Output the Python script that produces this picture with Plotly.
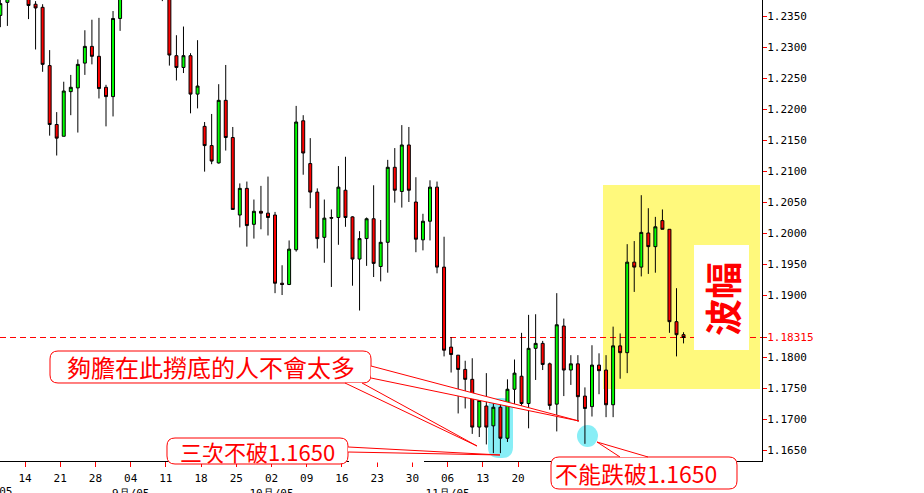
import plotly.graph_objects as go
import pandas as pd

# ---------------- data ----------------
dates = pd.bdate_range("2005-08-09", "2005-12-22")

opens = [1.2351, 1.2372, 1.2410, 1.2432, 1.2418, 1.2369, 1.2364, 1.2270, 1.2175, 1.2156,
         1.2228, 1.2234, 1.2274, 1.2301, 1.2285, 1.2235, 1.2220, 1.2346, 1.2395, 1.2405,
         1.2440, 1.2462, 1.2430, 1.2455, 1.2470, 1.2286, 1.2267, 1.2286, 1.2224, 1.2172,
         1.2141, 1.2113, 1.2214, 1.2154, 1.2029, 1.2072, 1.2014, 1.2035, 1.2032, 1.2029,
         1.1919, 1.1917, 1.1973, 1.2181, 1.2112, 1.2066, 1.1993, 1.2025, 1.2025, 1.2069,
         1.2026, 1.1958, 1.1991, 1.2023, 1.1946, 1.1985, 1.2106, 1.2067, 1.2142, 1.2050,
         1.1989, 1.2019, 1.2074, 1.1945, 1.1816, 1.1803, 1.1780, 1.1764, 1.1687, 1.1721,
         1.1689, 1.1719, 1.1669, 1.1748, 1.1769, 1.1725, 1.1814, 1.1822, 1.1789, 1.1724,
         1.1850, 1.1779, 1.1789, 1.1737, 1.1720, 1.1787, 1.1779, 1.1723, 1.1818, 1.1807,
         1.1953, 1.1945, 1.2000, 1.1978, 1.2020, 1.2006, 1.1857, 1.1836]
highs = [1.2390, 1.2430, 1.2460, 1.2455, 1.2440, 1.2374, 1.2369, 1.2295, 1.2195, 1.2244,
         1.2255, 1.2280, 1.2327, 1.2344, 1.2347, 1.2239, 1.2358, 1.2405, 1.2425, 1.2450,
         1.2485, 1.2478, 1.2468, 1.2490, 1.2492, 1.2319, 1.2333, 1.2290, 1.2311, 1.2179,
         1.2192, 1.2240, 1.2271, 1.2171, 1.2080, 1.2083, 1.2054, 1.2076, 1.2091, 1.2034,
         1.1948, 1.1988, 1.2205, 1.2190, 1.2153, 1.2072, 1.2054, 1.2038, 1.2108, 1.2123,
         1.2027, 1.2003, 1.2025, 1.2077, 1.2021, 1.2118, 1.2137, 1.2174, 1.2171, 1.2090,
         1.2031, 1.2085, 1.2083, 1.1994, 1.1832, 1.1803, 1.1794, 1.1798, 1.1733, 1.1774,
         1.1728, 1.1730, 1.1764, 1.1796, 1.1839, 1.1868, 1.1869, 1.1826, 1.1791, 1.1903,
         1.1862, 1.1803, 1.1803, 1.1751, 1.1819, 1.1806, 1.1803, 1.1849, 1.1838, 1.1982,
         1.1987, 1.2061, 1.2040, 1.2026, 1.2038, 1.2006, 1.1911, 1.1840]
lows = [1.2332, 1.2334, 1.2385, 1.2395, 1.2345, 1.2296, 1.2260, 1.2157, 1.2125, 1.2156,
        1.2190, 1.2162, 1.2255, 1.2272, 1.2217, 1.2172, 1.2188, 1.2326, 1.2380, 1.2385,
        1.2410, 1.2412, 1.2398, 1.2374, 1.2270, 1.2246, 1.2258, 1.2193, 1.2201, 1.2099,
        1.2111, 1.2112, 1.2133, 1.2038, 1.2009, 1.1978, 1.1991, 1.2006, 1.1996, 1.1903,
        1.1900, 1.1916, 1.1970, 1.2094, 1.2040, 1.1975, 1.1952, 1.1913, 1.1981, 1.2010,
        1.1915, 1.1875, 1.1947, 1.1929, 1.1922, 1.1936, 1.2049, 1.2041, 1.2050, 1.1969,
        1.1972, 1.1988, 1.1935, 1.1801, 1.1775, 1.1709, 1.1717, 1.1676, 1.1671, 1.1659,
        1.1645, 1.1645, 1.1663, 1.1720, 1.1717, 1.1685, 1.1763, 1.1779, 1.1715, 1.1680,
        1.1737, 1.1755, 1.1696, 1.1660, 1.1704, 1.1740, 1.1703, 1.1703, 1.1765, 1.1774,
        1.1905, 1.1930, 1.1934, 1.1936, 1.2006, 1.1839, 1.1801, 1.1822]
closes = [1.2370, 1.2410, 1.2432, 1.2420, 1.2367, 1.2363, 1.2272, 1.2175, 1.2153, 1.2229,
          1.2235, 1.2272, 1.2301, 1.2285, 1.2233, 1.2220, 1.2346, 1.2395, 1.2405, 1.2440,
          1.2462, 1.2430, 1.2455, 1.2470, 1.2287, 1.2267, 1.2286, 1.2224, 1.2237, 1.2141,
          1.2116, 1.2214, 1.2154, 1.2038, 1.2072, 1.2012, 1.2035, 1.2032, 1.2025, 1.1919,
          1.1917, 1.1974, 1.2179, 1.2129, 1.2066, 1.1991, 1.2024, 1.2024, 1.2074, 1.2025,
          1.1958, 1.1991, 1.2023, 1.1951, 1.1985, 1.2106, 1.2069, 1.2142, 1.2069, 1.1990,
          1.2019, 1.2074, 1.1945, 1.1811, 1.1804, 1.1780, 1.1764, 1.1687, 1.1730, 1.1687,
          1.1719, 1.1669, 1.1748, 1.1774, 1.1725, 1.1814, 1.1822, 1.1788, 1.1722, 1.1852,
          1.1779, 1.1789, 1.1736, 1.1717, 1.1787, 1.1778, 1.1723, 1.1818, 1.1807, 1.1953,
          1.1945, 1.2001, 1.1978, 1.2010, 1.2006, 1.1857, 1.1836, 1.18315]

last_price = 1.18315

# weekly tick dates (Sundays) and their labels
tick_dates = ["2005-08-14", "2005-08-21", "2005-08-28", "2005-09-04", "2005-09-11",
              "2005-09-18", "2005-09-25", "2005-10-02", "2005-10-09", "2005-10-16",
              "2005-10-23", "2005-10-30", "2005-11-06", "2005-11-13", "2005-11-20"]
tick_days = ["14", "21", "28", "04", "11", "18", "25", "02", "09", "16", "23", "30",
             "06", "13", "20"]
tick_months = ["", "", "", "9月/05", "", "", "", "10月/05", "", "", "", "", "11月/05", "", ""]
first_month_label = "8月/05"

price_ticks = [1.1650, 1.1700, 1.1750, 1.1800, 1.1900, 1.1950, 1.2000, 1.2050, 1.2100,
               1.2150, 1.2200, 1.2250, 1.2300, 1.2350]

txt_callout1 = "夠膽在此撈底的人不會太多"
txt_callout2 = "三次不破1.1650"
txt_callout3 = "不能跌破1.1650"
txt_range = "波幅"

# ---------------- figure ----------------
x_idx = list(range(len(dates)))
date_series = pd.Series(dates)

def tick_pos(d):
    d = pd.Timestamp(d)
    i = int((date_series > d).idxmax())
    return i - 0.5

tickvals_x = [tick_pos(d) for d in tick_dates]
ticktext_x = [d if m == "" else f"{d}<br>{m}" for d, m in zip(tick_days, tick_months)]

tickvals_y = price_ticks + [last_price]
ticktext_y = [f"{v:.4f}" for v in price_ticks] + [f"<span style='color:#FF0000'>{last_price:.5f}</span>"]

W, H = 924, 493
ML, MR, MT, MB = 0, 162, 0, 32
PW, PH = W - ML - MR, H - MT - MB

def PX(x):
    return (x - ML) / PW

def PY(y):
    return (MT + PH - y) / PH

def rrect(x0, y0, x1, y1, r):
    p = lambda x, y: f"{PX(x):.5f},{PY(y):.5f}"
    return (f"M{p(x0 + r, y0)} L{p(x1 - r, y0)} Q{p(x1, y0)} {p(x1, y0 + r)} "
            f"L{p(x1, y1 - r)} Q{p(x1, y1)} {p(x1 - r, y1)} L{p(x0 + r, y1)} "
            f"Q{p(x0, y1)} {p(x0, y1 - r)} L{p(x0, y0 + r)} Q{p(x0, y0)} {p(x0 + r, y0)} Z")

def wedge(a, tip, b):
    p = lambda q: f"{PX(q[0]):.5f},{PY(q[1]):.5f}"
    return f"M{p(a)} L{p(tip)} L{p(b)}"

fig = go.Figure(go.Candlestick(
    x=x_idx, open=opens, high=highs, low=lows, close=closes,
    increasing=dict(fillcolor="#00FF00", line=dict(color="black", width=1)),
    decreasing=dict(fillcolor="#FF0000", line=dict(color="black", width=1)),
    whiskerwidth=0,
    hovertext=[d.strftime("%Y-%m-%d") for d in dates],
    showlegend=False,
))

RED = "#FF0000"
CYAN = "#88EEF6"
YELLOW = "#FFF97C"

shapes = []
# yellow range box
shapes.append(dict(type="rect", xref="paper", yref="paper", x0=PX(603), x1=PX(760),
                   y0=PY(389), y1=PY(185), fillcolor=YELLOW, line=dict(width=0), layer="below"))
# cyan highlights
shapes.append(dict(type="path", xref="paper", yref="paper", path=rrect(488, 398, 513, 458, 11),
                   fillcolor=CYAN, line=dict(width=0), layer="below"))
shapes.append(dict(type="circle", xref="paper", yref="paper", x0=PX(577), x1=PX(598),
                   y0=PY(447), y1=PY(425), fillcolor=CYAN, line=dict(width=0), layer="below"))
# last price dashed line
shapes.append(dict(type="line", xref="paper", yref="y", x0=0, x1=1, y0=last_price, y1=last_price,
                   line=dict(color=RED, width=1, dash="6px,4px"), layer="below"))
# white box behind the vertical label
shapes.append(dict(type="rect", xref="paper", yref="paper", x0=PX(694), x1=PX(749),
                   y0=PY(350), y1=PY(245), fillcolor="white", line=dict(width=0), layer="above"))
# gap in the axis line right of the second callout
shapes.append(dict(type="line", xref="paper", yref="paper", x0=PX(349), x1=PX(424),
                   y0=PY(461.5), y1=PY(461.5), line=dict(color="white", width=2), layer="above"))
# callout boxes
for (x0, y0, x1, y1) in [(50, 351, 371, 383), (167, 438, 348, 464), (551, 457, 737, 489)]:
    shapes.append(dict(type="path", xref="paper", yref="paper", path=rrect(x0, y0, x1, y1, 8),
                       fillcolor="white", line=dict(color=RED, width=1), layer="above"))
# callout pointers
for a, tip, b in [((371, 366), (579, 421), (371, 378)),
                  ((345, 383), (477, 446), (362, 383)),
                  ((348, 447), (500, 455), (348, 452)),
                  ((620, 457), (597, 442), (648, 457))]:
    shapes.append(dict(type="path", xref="paper", yref="paper", path=wedge(a, tip, b),
                       fillcolor="white", line=dict(color=RED, width=1), layer="above"))

cjk = "Noto Sans CJK TC"
annotations = [
    dict(xref="paper", yref="paper", x=PX(211), y=PY(366), text=txt_callout1, showarrow=False,
         font=dict(family=cjk, size=24, color=RED), xanchor="center", yanchor="middle"),
    dict(xref="paper", yref="paper", x=PX(257), y=PY(451), text=txt_callout2, showarrow=False,
         font=dict(family=cjk, size=22, color=RED), xanchor="center", yanchor="middle"),
    dict(xref="paper", yref="paper", x=PX(636), y=PY(473), text=txt_callout3, showarrow=False,
         font=dict(family=cjk, size=23, color=RED), xanchor="center", yanchor="middle"),
    dict(xref="paper", yref="paper", x=PX(722), y=PY(299), text=txt_range, showarrow=False,
         textangle=-90, font=dict(family=cjk, size=37, color=RED, weight="bold"),
         xanchor="center", yanchor="middle"),
    dict(xref="paper", yref="paper", x=PX(15), y=PY(491), text=first_month_label, showarrow=False,
         font=dict(family="DejaVu Sans Mono", size=11, color="black"), xanchor="right", yanchor="middle"),
]

fig.update_layout(
    width=W, height=H,
    margin=dict(l=ML, r=MR, t=MT, b=MB, pad=0, autoexpand=False),
    paper_bgcolor="white", plot_bgcolor="white",
    shapes=shapes, annotations=annotations,
    boxgap=0.4,
    xaxis=dict(range=[-0.05, 108.14], rangeslider=dict(visible=False), showgrid=False,
               zeroline=False, showline=True, linecolor="black", linewidth=1, automargin=False,
               ticks="outside", ticklen=5, tickcolor=RED, tickwidth=1,
               tickvals=tickvals_x, ticktext=ticktext_x, ticklabelstandoff=2,
               tickfont=dict(family="DejaVu Sans Mono", size=11, color="black")),
    yaxis=dict(range=[1.16323, 1.23758], side="right", showgrid=False, zeroline=False,
               showline=True, linecolor="black", linewidth=1, automargin=False,
               ticks="outside", ticklen=4, tickcolor=RED, tickwidth=1,
               tickvals=tickvals_y, ticktext=ticktext_y, ticklabelstandoff=-2,
               tickfont=dict(family="DejaVu Sans Mono", size=11, color="black")),
    hovermode=False,
)

fig.write_html("out.html", config={"displayModeBar": False},
               post_script="document.body.style.margin='0px';")
